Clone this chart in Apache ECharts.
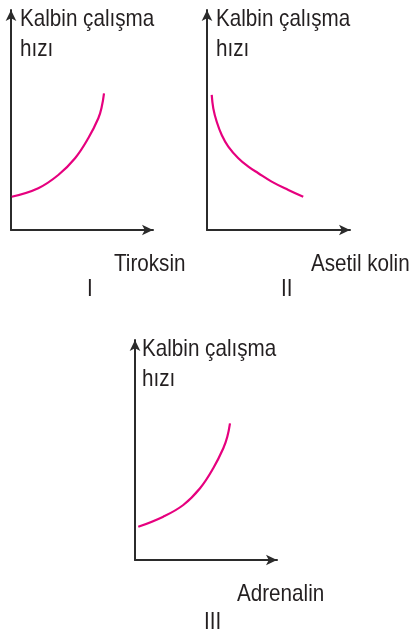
<!DOCTYPE html>
<html>
<head>
<meta charset="utf-8">
<script src="https://cdn.jsdelivr.net/npm/echarts@6/dist/echarts.min.js"></script>
<style>
  html, body { margin: 0; padding: 0; background: #fff; }
  #chart { width: 412px; height: 633px; }
</style>
</head>
<body>
<div id="chart"></div>
<script>
// eksen adlari
var yName = 'Kalbin çalışma\nhızı';
var xNames = ['Tiroksin', 'Asetil kolin', 'Adrenalin'];
var numerals = ['I', 'II', 'III'];

// egriler (0-10 birim)
var tiroksinX = [0.05, 1.92, 3.33, 4.51, 5.44, 6.15, 6.39, 6.55];
var tiroksinY = [1.51, 1.90, 2.50, 3.26, 4.17, 5.08, 5.60, 6.21];
var asetilX = [0.33, 0.44, 0.68, 1.03, 1.49, 2.19, 2.89, 3.59, 4.52, 5.69, 6.73];
var asetilY = [6.14, 5.53, 4.92, 4.32, 3.79, 3.26, 2.88, 2.58, 2.20, 1.82, 1.51];
var adrenalinX = [0.23, 1.99, 3.40, 4.58, 5.51, 6.22, 6.50, 6.69];
var adrenalinY = [1.51, 1.97, 2.50, 3.26, 4.17, 5.08, 5.60, 6.21];

var FONT = "'Liberation Sans', Arial, sans-serif";
var TEXT_COLOR = '#231f20';
var CURVE_COLOR = '#e6007e';

function zip(xs, ys) {
    return xs.map(function (x, i) { return [x, ys[i]]; });
}

function axis(idx) {
    return {
        type: 'value',
        gridIndex: idx,
        min: 0,
        max: 10,
        axisLine: {
            show: true,
            onZero: false,
            symbol: ['none', 'arrow'],
            symbolSize: [8, 11],
            lineStyle: { color: '#2b2b2b', width: 2 }
        },
        axisTick: { show: false },
        axisLabel: { show: false },
        splitLine: { show: false }
    };
}

// yazilar biraz dar (condensed) gorunuyor, scaleX ile daraltildi
function txt(str, x, y, lh) {
    return {
        type: 'text',
        x: x,
        y: y,
        scaleX: 0.86,
        style: {
            text: str,
            fill: TEXT_COLOR,
            fontFamily: FONT,
            fontSize: 24,
            lineHeight: lh || 24,
            verticalAlign: 'top'
        }
    };
}

var myChart = echarts.init(document.getElementById('chart'));

var curves = [zip(tiroksinX, tiroksinY), zip(asetilX, asetilY), zip(adrenalinX, adrenalinY)];

var option = {
    animation: false,
    grid: [
        { left: 11, top: 10, width: 142, height: 220 },
        { left: 207, top: 10, width: 143, height: 220 },
        { left: 135, top: 340, width: 142, height: 220 }
    ],
    xAxis: [axis(0), axis(1), axis(2)],
    yAxis: [axis(0), axis(1), axis(2)],
    series: curves.map(function (d, i) {
        return {
            type: 'line',
            xAxisIndex: i,
            yAxisIndex: i,
            data: d,
            smooth: 0.4,
            showSymbol: false,
            lineStyle: { color: CURVE_COLOR, width: 2.2 }
        };
    }),
    graphic: [
        txt(yName, 20, 4, 30),
        txt(yName, 216, 4, 30),
        txt(yName, 142, 334, 30),
        txt(xNames[0], 114, 252),
        txt(xNames[1], 311, 252),
        txt(xNames[2], 237, 582),
        txt(numerals[0], 87, 277),
        txt(numerals[1], 281, 277),
        txt(numerals[2], 204, 610)
    ]
};

myChart.setOption(option);
</script>
</body>
</html>
